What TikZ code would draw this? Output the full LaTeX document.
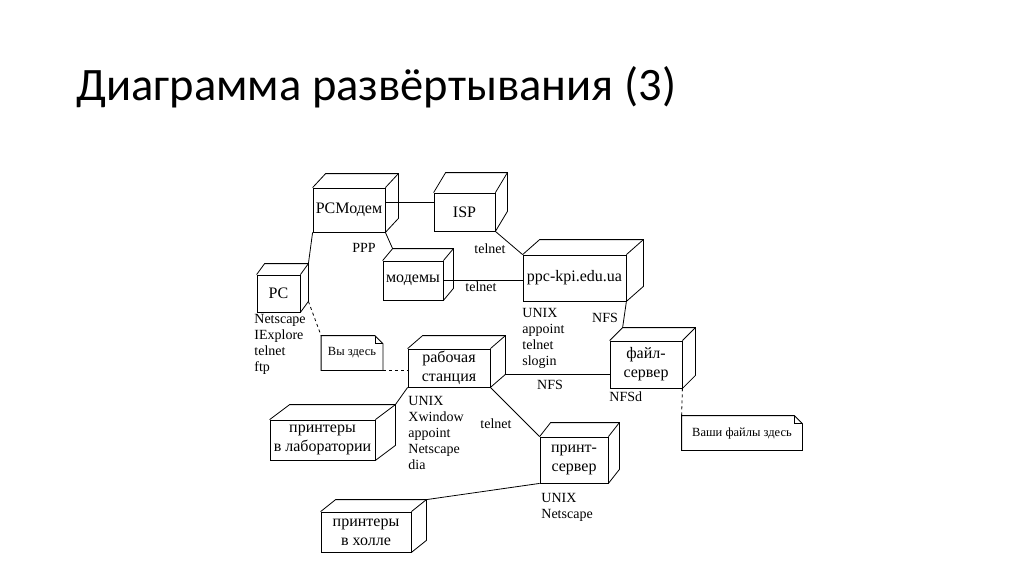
\documentclass[tikz,border=0pt]{standalone}
\usepackage{fontspec}
\setmainfont{Liberation Serif}
\newfontfamily\titlefont{Carlito}

% back edges of a box node, #2 = depth
\newcommand\cube[2]{%
	\path ([shift={(#2)}]#1.north west) coordinate (#1-bnw)
	      ([shift={(#2)}]#1.north east) coordinate (#1-bne)
	      ([shift={(#2)}]#1.south east) coordinate (#1-bse);
	\draw (#1.north west) -- (#1-bnw) -- (#1-bne) -- (#1-bse) -- (#1.south east);
	\draw (#1.north east) -- (#1-bne);}
% note with folded corner
\newcommand\notefold[1]{%
	\draw (#1.north west) -- ([xshift=-8pt]#1.north east) -- ([yshift=-8pt]#1.north east)
	      -- (#1.south east) -- (#1.south west) -- cycle;
	\draw ([xshift=-8pt]#1.north east) -- ([xshift=-8pt,yshift=-8pt]#1.north east)
	      -- ([yshift=-8pt]#1.north east);}

\begin{document}
\begin{tikzpicture}[x=1pt,y=-1pt,line width=0.8pt,
	dev/.style={draw,inner sep=0pt,align=center,font=\fontsize{16}{19}\selectfont},
	memo/.style={inner sep=0pt,align=center,font=\fontsize{12.5}{15}\selectfont},
	lbl/.style={inner sep=0pt,align=left,font=\fontsize{14}{16.2}\selectfont}]
%
	\useasboundingbox (0,0) rectangle (1024,574);
	\node[anchor=base west,inner sep=0pt,font=\titlefont\fontsize{46.5}{52}\selectfont] (title) at (76,100) {Диаграмма развёртывания (3)};
%
	\node[dev,minimum width=72pt,minimum height=44pt] (pcm) at (349,210) {PCМодем};
	\node[dev,minimum width=61pt,minimum height=38pt] (isp) at (464.5,212) {ISP};
	\node[dev,minimum width=60pt,minimum height=39pt] (mod) at (413,280.5) {модемы};
	\node[dev,minimum width=103pt,minimum height=46pt] (ppc) at (574.5,278) {ppc-kpi.edu.ua};
	\node[dev,minimum width=43pt,minimum height=37pt] (pc) at (278.5,293.5) {PC};
	\node[dev,minimum width=82pt,minimum height=38pt] (ws) at (449,368) {рабочая\\станция};
	\node[dev,minimum width=105pt,minimum height=40pt] (lab) at (322.5,440) {принтеры\\в лаборатории};
	\node[dev,minimum width=72pt,minimum height=47pt] (fs) at (646,364.5) {файл-\\сервер};
	\node[dev,minimum width=68pt,minimum height=46pt] (ps) at (574,460) {принт-\\сервер};
	\node[dev,minimum width=90pt,minimum height=40pt] (hall) at (366,532) {принтеры\\в холле};
%
	\cube{pcm}{13,-14}
	\cube{isp}{12,-20}
	\cube{mod}{10,-12}
	\cube{ppc}{17,-15}
	\cube{pc}{8,-11}
	\cube{ws}{15,-13}
	\cube{lab}{20,-15}
	\cube{fs}{13,-13}
	\cube{ps}{11,-14}
	\cube{hall}{15,-12}
%
	\node[memo,minimum width=61pt,minimum height=34pt] (here) at (352,353) {Вы здесь};
	\node[memo,minimum width=120pt,minimum height=34pt] (yours) at (742,433) {Ваши файлы здесь};
	\notefold{here}
	\notefold{yours}
%
	\draw ([yshift=8pt]pcm.east) -- ([yshift=10pt]isp.west);
	\draw (pcm.south west) -- (pc-bne);
	\draw (pcm.south east) -- (mod-bnw);
	\draw (isp.south east) -- (ppc.north west);
	\draw (mod.east) -- (ppc.west |- mod.east);
	\draw (ppc.south east) -- (fs-bnw);
	\draw (ws-bse) -- (fs.west |- ws-bse);
	\draw (ws.south east) -- (ps.north west);
	\draw (ws.south west) -- (lab-bne);
	\draw (ps.south west) -- (hall-bne);
	\draw[dashed] (pc-bse) -- (here.north west);
	\draw[dashed] (here.south east) -- (ws.west |- here.south east);
	\draw[dashed] (fs.south east) -- (yours.north west);
%
	\node[lbl] (ppp) at (364,248) {PPP};
	\node[lbl] (tn1) at (490,249) {telnet};
	\node[lbl] (tn2) at (481,287) {telnet};
	\node[lbl] (nfs1) at (605,318) {NFS};
	\node[lbl] (nfs2) at (550,385) {NFS};
	\node[lbl,anchor=west] (nfsd) at (609,397) {NFSd};
	\node[lbl] (tn3) at (496,424) {telnet};
	\node[lbl,anchor=north west] (pcsw) at (254,313.5) {Netscape\\IExplore\\telnet\\ftp};
	\node[lbl,anchor=north west] (ppcsw) at (522,307.5) {UNIX\\appoint\\telnet\\slogin};
	\node[lbl,anchor=north west] (wssw) at (408,395.5) {UNIX\\Xwindow\\appoint\\Netscape\\dia};
	\node[lbl,anchor=north west] (pssw) at (541,492.5) {UNIX\\Netscape};
%
\end{tikzpicture}
\end{document}
